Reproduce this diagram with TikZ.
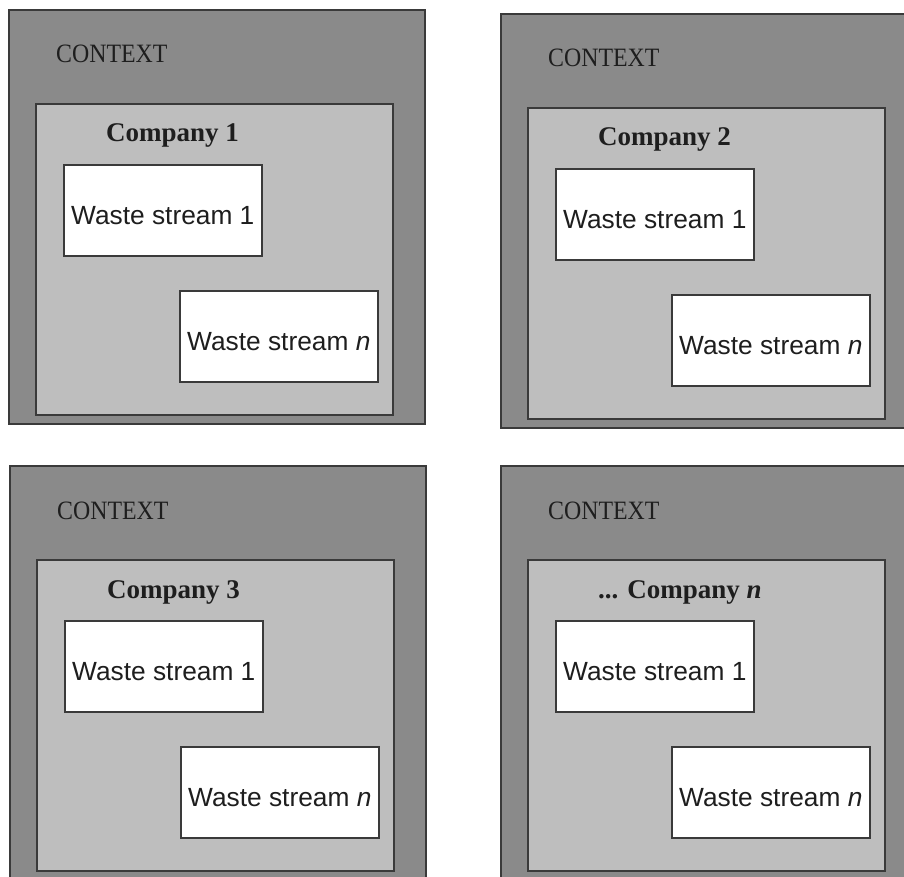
\documentclass[tikz,border=0pt]{standalone}
\usepackage{fontspec}
\setmainfont{Liberation Serif}
\newfontfamily\wastefont{Liberation Sans}

\definecolor{ctxgray}{RGB}{138,138,138}
\definecolor{cogray}{RGB}{190,190,190}
\definecolor{edgegray}{RGB}{58,58,58}
\definecolor{inkgray}{RGB}{30,30,30}

\tikzset{
  frame/.style={draw=edgegray, line width=1.6pt, inner sep=0pt, anchor=north west},
  ctxbox/.style={frame, fill=ctxgray, minimum width=416pt, minimum height=414pt},
  cobox/.style={frame, fill=cogray, minimum width=357pt, minimum height=311pt},
  wastebox/.style={frame, fill=white, minimum width=198pt, minimum height=91pt,
    text=inkgray, font=\wastefont\fontsize{26.3}{30}\selectfont,
    text height=29pt, text depth=0pt},
  ctxlabel/.style={anchor=base west, inner sep=0pt, text=inkgray,
    font=\fontsize{26.5}{30}\selectfont},
  colabel/.style={anchor=base west, inner sep=0pt, text=inkgray,
    font=\bfseries\fontsize{27}{30}\selectfont}
}

% one context frame holding a company with two waste streams
\newcommand\contextpanel[4]{%
  \begin{scope}[shift={(#2,#3)}]
    \node[ctxbox] (#1-ctx) at (0,0) {};
    \node[ctxlabel] (#1-ctxlabel) at (48,54) {\scalebox{0.9}[1]{CONTEXT}};
    \node[cobox] (#1-co) at (27,94) {};
    \node[colabel] (#1-colabel) at (98,133) {#4};
    \node[wastebox] (#1-ws1) at (55,155) {Waste stream 1};
    \node[wastebox] (#1-wsn) at (171,281) {Waste stream \textit{n}};
  \end{scope}}

\begin{document}
\begin{tikzpicture}[x=1pt,y=-1pt]
  \useasboundingbox (0,0) rectangle (904,877);
  \clip (0,0) rectangle (904,877);
  \fill[white] (0,0) rectangle (904,877);
  \contextpanel{pa}{8}{9}{Company 1}
  \contextpanel{pb}{500}{13}{Company 2}
  \contextpanel{pc}{9}{465}{Company 3}
  \contextpanel{pd}{500}{465}{... Company \textit{n}}
\end{tikzpicture}
\end{document}
